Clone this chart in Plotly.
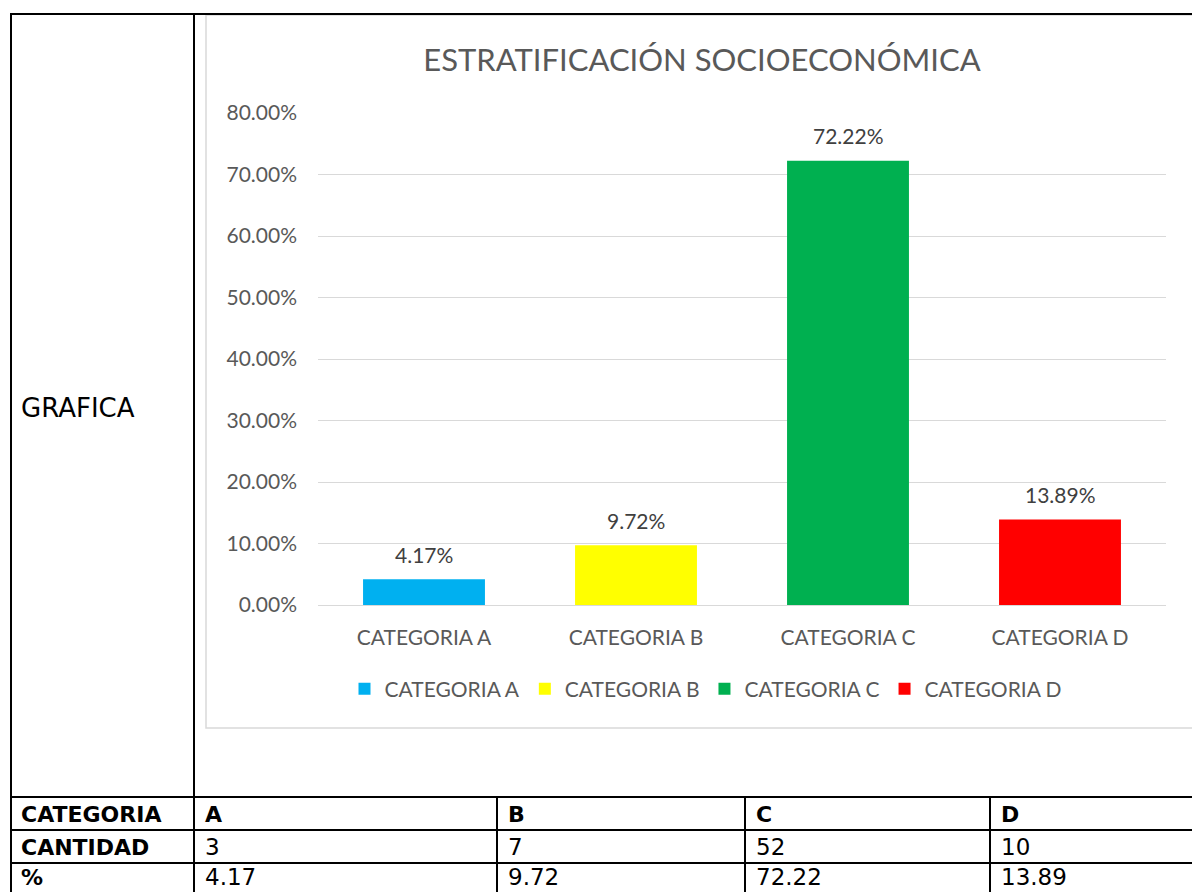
import plotly.graph_objects as go

# data
categories = ["CATEGORIA A", "CATEGORIA B", "CATEGORIA C", "CATEGORIA D"]
short_names = ["A", "B", "C", "D"]
cantidad = [3, 7, 52, 10]
porcentaje = [4.17, 9.72, 72.22, 13.89]
colors = ["#00B0F0", "#FFFF00", "#00B050", "#FF0000"]
y_ticks = [0, 0.1, 0.2, 0.3, 0.4, 0.5, 0.6, 0.7, 0.8]

W, H = 1200, 892
OFF = 8  # page body margin
chart_font = "Lato, 'Open Sans', sans-serif"
table_font = "'DejaVu Sans', sans-serif"


def px(x):
    return (x - OFF) / W


def py(y):
    return 1 - (y - OFF) / H


fig = go.Figure()

for cat, val, col in zip(categories, porcentaje, colors):
    fig.add_trace(go.Bar(
        x=[cat],
        y=[val / 100],
        name=cat,
        marker=dict(color=col, line=dict(width=0)),
        hoverinfo="skip",
    ))

# data labels above bars
for cat, val in zip(categories, porcentaje):
    fig.add_annotation(
        x=cat, y=val / 100, xref="x", yref="y",
        text=f"{val:.2f}%", showarrow=False,
        yanchor="middle", yshift=25,
        font=dict(family=chart_font, size=21, color="#404040"),
    )

fig.update_layout(
    width=W, height=H,
    margin=dict(l=0, r=0, t=0, b=0, autoexpand=False),
    paper_bgcolor="white",
    plot_bgcolor="white",
    barmode="overlay",
    bargap=0.425,
    showlegend=True,
    title=dict(
        text="ESTRATIFICACIÓN SOCIOECONÓMICA",
        x=px(702), xanchor="center",
        y=py(60), yanchor="middle",
        font=dict(family=chart_font, size=31, color="#595959"),
    ),
    legend=dict(
        orientation="h",
        x=px(706), xanchor="center",
        y=py(689), yanchor="middle",
        font=dict(family=chart_font, size=21, color="#595959"),
        itemwidth=30,
        traceorder="normal",
    ),
    xaxis=dict(
        domain=[px(318), px(1166)],
        showgrid=False,
        showline=True, linecolor="#D9D9D9", linewidth=1,
        ticks="",
        ticklabelstandoff=14,
        tickfont=dict(family=chart_font, size=21, color="#595959"),
        fixedrange=True,
    ),
    yaxis=dict(
        domain=[py(605), py(113)],
        range=[0, 0.8],
        tickvals=y_ticks,
        tickformat=".2%",
        showgrid=True, gridcolor="#D9D9D9", gridwidth=1,
        zeroline=False,
        showline=False,
        ticks="",
        ticklabelstandoff=20,
        tickfont=dict(family=chart_font, size=21, color="#595959"),
        fixedrange=True,
    ),
)

shapes = []
# chart frame
shapes.append(dict(type="rect", xref="paper", yref="paper",
                   x0=px(206), x1=px(1196), y0=py(728), y1=py(15),
                   line=dict(color="#D9D9D9", width=1.5), layer="below"))


def hline(y, x0, x1):
    shapes.append(dict(type="line", xref="paper", yref="paper",
                       x0=px(x0), x1=px(x1), y0=py(y), y1=py(y),
                       line=dict(color="black", width=2)))


def vline(x, y0, y1):
    shapes.append(dict(type="line", xref="paper", yref="paper",
                       x0=px(x), x1=px(x), y0=py(y0), y1=py(y1),
                       line=dict(color="black", width=2)))


hline(14, 11, 1210)
hline(797, 11, 1210)
hline(830, 11, 1210)
hline(863, 11, 1210)
vline(11, 13, 900)
vline(194, 13, 900)
col_x = [194, 497, 745, 990]
for x in col_x[1:]:
    vline(x, 797, 900)

fig.update_layout(shapes=shapes)


# table text
def cell_text(x, y, text, bold=False, size=23):
    fig.add_annotation(
        xref="paper", yref="paper", x=px(x), y=py(y),
        xanchor="left", yanchor="middle", showarrow=False,
        text=f"<b>{text}</b>" if bold else text,
        font=dict(family=table_font, size=size, color="black"),
    )


cell_text(19, 408, "GRAFICA", size=26)
row_y = [814, 847, 877]
cell_text(19, row_y[0], "CATEGORIA", bold=True, size=22)
cell_text(19, row_y[1], "CANTIDAD", bold=True, size=22)
cell_text(19, row_y[2], "%", bold=True, size=22)
for x, name, qty, pct in zip(col_x, short_names, cantidad, porcentaje):
    cell_text(x + 9, row_y[0], name, bold=True, size=22)
    cell_text(x + 9, row_y[1], str(qty))
    cell_text(x + 9, row_y[2], f"{pct:.2f}")

fig.write_html("out.html")
